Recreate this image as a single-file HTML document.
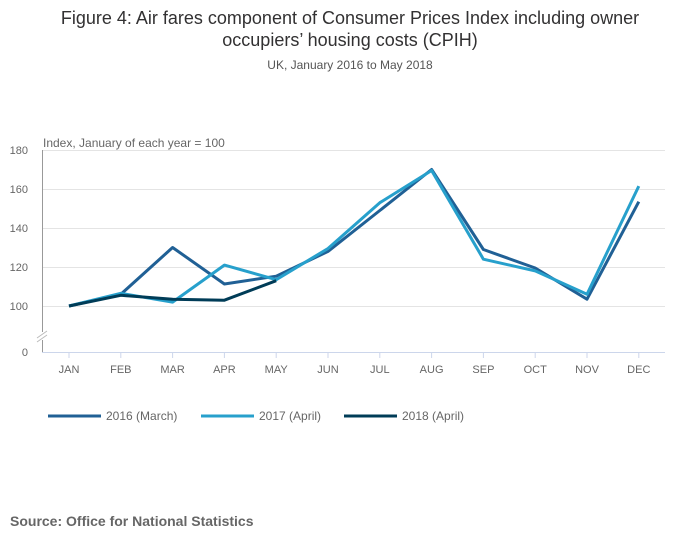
<!DOCTYPE html>
<html><head><meta charset="utf-8"><style>
body{margin:0;background:#fff;}
svg{display:block;font-family:"Liberation Sans",sans-serif;}
</style></head><body>
<svg width="700" height="549" viewBox="0 0 700 549">
<text x="350" y="24" text-anchor="middle" font-size="18" fill="#323132">Figure 4: Air fares component of Consumer Prices Index including owner</text>
<text x="350" y="46" text-anchor="middle" font-size="18" fill="#323132">occupiers’ housing costs (CPIH)</text>
<text x="350" y="69" text-anchor="middle" font-size="12" fill="#555">UK, January 2016 to May 2018</text>
<text x="43" y="147" font-size="12" fill="#666">Index, January of each year = 100</text>
<g stroke="#e4e4e4" stroke-width="1">
<line x1="42" x2="665" y1="150.5" y2="150.5"/><line x1="42" x2="665" y1="189.5" y2="189.5"/>
<line x1="42" x2="665" y1="228.5" y2="228.5"/><line x1="42" x2="665" y1="267.5" y2="267.5"/>
<line x1="42" x2="665" y1="306.5" y2="306.5"/>
</g>
<line x1="42.5" y1="150" x2="42.5" y2="332" stroke="#999"/>
<line x1="42.5" y1="340" x2="42.5" y2="352" stroke="#999"/>
<line x1="37" y1="338" x2="47" y2="331" stroke="#bbb"/><line x1="37" y1="342" x2="47" y2="335" stroke="#bbb"/>
<line x1="42" y1="352.5" x2="665" y2="352.5" stroke="#ccd6eb"/>
<g font-size="11" fill="#666" text-anchor="end">
<text x="28" y="154">180</text><text x="28" y="193">160</text><text x="28" y="232">140</text><text x="28" y="271">120</text><text x="28" y="310">100</text><text x="28" y="356">0</text>
</g>
<g stroke="#ccd6eb">
<line x1="69" x2="69" y1="352" y2="358"/><line x1="120.8" x2="120.8" y1="352" y2="358"/><line x1="172.6" x2="172.6" y1="352" y2="358"/><line x1="224.4" x2="224.4" y1="352" y2="358"/><line x1="276.2" x2="276.2" y1="352" y2="358"/><line x1="328" x2="328" y1="352" y2="358"/><line x1="379.8" x2="379.8" y1="352" y2="358"/><line x1="431.6" x2="431.6" y1="352" y2="358"/><line x1="483.4" x2="483.4" y1="352" y2="358"/><line x1="535.2" x2="535.2" y1="352" y2="358"/><line x1="587" x2="587" y1="352" y2="358"/><line x1="638.8" x2="638.8" y1="352" y2="358"/>
</g>
<g font-size="11" fill="#666" text-anchor="middle">
<text x="69" y="373">JAN</text><text x="120.8" y="373">FEB</text><text x="172.6" y="373">MAR</text><text x="224.4" y="373">APR</text><text x="276.2" y="373">MAY</text><text x="328" y="373">JUN</text><text x="379.8" y="373">JUL</text><text x="431.6" y="373">AUG</text><text x="483.4" y="373">SEP</text><text x="535.2" y="373">OCT</text><text x="587" y="373">NOV</text><text x="638.8" y="373">DEC</text>
</g>
<g fill="none" stroke-width="3" stroke-linejoin="round">
<polyline stroke="#206095" points="69,306 120.8,294.3 172.6,247.5 224.4,284 276.2,276.2 328,251.4 379.8,210.5 431.6,169.5 483.4,249.5 535.2,268 587,299.2 638.8,201.7"/>
<polyline stroke="#27a0cc" points="69,306 120.8,293.3 172.6,302.1 224.4,265.1 276.2,279.7 328,248.5 379.8,202.7 431.6,170.5 483.4,259.2 535.2,270.9 587,294.3 638.8,186.1"/>
<polyline stroke="#003c57" points="69,306 120.8,295.3 172.6,299.2 224.4,300.2 276.2,280.7"/>
</g>
<g stroke-width="3">
<line x1="48" x2="101" y1="416" y2="416" stroke="#206095"/>
<line x1="201" x2="254" y1="416" y2="416" stroke="#27a0cc"/>
<line x1="344" x2="397" y1="416" y2="416" stroke="#003c57"/>
</g>
<g font-size="12" fill="#666">
<text x="106" y="420">2016 (March)</text><text x="259" y="420">2017 (April)</text><text x="402" y="420">2018 (April)</text>
</g>
<text x="10" y="526" font-size="14" font-weight="bold" fill="#666">Source: Office for National Statistics</text>
</svg>
</body></html>
